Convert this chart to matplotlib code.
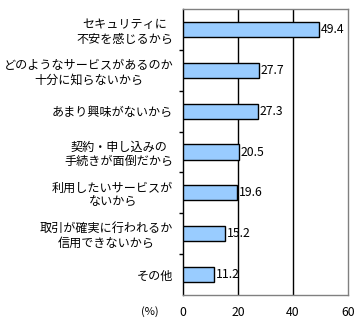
import matplotlib
matplotlib.use("Agg")
import matplotlib.pyplot as plt
import numpy as np

plt.rcParams['font.family'] = ['Noto Sans CJK JP', 'DejaVu Sans']

categories = [
    "セキュリティに\n不安を感じるから",
    "どのようなサービスがあるのか\n十分に知らないから",
    "あまり興味がないから",
    "契約・申し込みの\n手続きが面倒だから",
    "利用したいサービスが\nないから",
    "取引が確実に行われるか\n信用できないから",
    "その他",
]
values = [49.4, 27.7, 27.3, 20.5, 19.6, 15.2, 11.2]
xticks = [0, 20, 40, 60]

fig = plt.figure(figsize=(3.64, 3.28), dpi=100)
ax = fig.add_axes([183 / 364, 1 - 295 / 328, 165 / 364, 286 / 328])

y = np.arange(len(categories))
ax.barh(y, values, height=0.37, color="#99CCFF", edgecolor="black", linewidth=1, zorder=3)

# value labels just right of each bar
for yi, v in zip(y, values):
    ax.text(v + 0.6, yi, f"{v}", va="center", ha="left", fontsize=8.8, zorder=4)

ax.set_xlim(0, 60)
ax.set_ylim(len(categories) - 0.5, -0.5)
ax.set_xticks(xticks)
ax.set_xticklabels([str(t) for t in xticks], fontsize=8.8)
ax.tick_params(axis="x", length=0, pad=8)

ax.set_yticks(y)
ax.set_yticklabels(categories, fontsize=8.7, multialignment="center", linespacing=1.15)
ax.tick_params(axis="y", which="major", length=0, pad=7)
ax.set_yticks(np.arange(0.5, len(categories) - 1, 1.0), minor=True)
ax.tick_params(axis="y", which="minor", length=3, width=1, color="black", direction="out")

for gx in [20, 40]:
    ax.axvline(gx, color="black", linewidth=1, zorder=1)

for side in ["top", "right", "bottom"]:
    ax.spines[side].set_color("#808080")
    ax.spines[side].set_linewidth(1)
ax.spines["left"].set_color("black")
ax.spines["left"].set_linewidth(1)

fig.text(150 / 364, 1 - 312 / 328, "(%)", fontsize=8, ha="center", va="center")

fig.savefig("out.png", dpi=100)
